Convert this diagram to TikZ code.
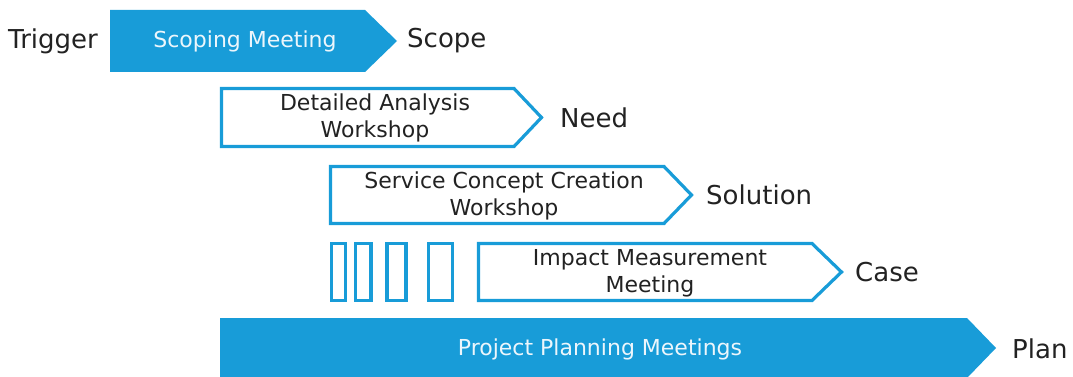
\documentclass[tikz,border=0pt]{standalone}
\usepackage{fontspec}
\setmainfont{DejaVu Sans}
\definecolor{pblue}{RGB}{24,156,216}
\definecolor{ptext}{RGB}{34,34,34}
\definecolor{wtext}{RGB}{236,246,252}
\tikzset{
  filledbox/.style={fill=pblue,draw=none},
  outlinebox/.style={draw=pblue,line width=3.2pt,fill=white,line join=miter},
  intext/.style={font=\fontsize{22}{27}\selectfont,align=center,text=ptext,inner sep=0pt},
  whitetext/.style={intext,text=wtext},
  label/.style={font=\fontsize{26}{30}\selectfont,text=ptext,anchor=west,inner sep=0pt}
}
\begin{document}
\begin{tikzpicture}[x=1pt,y=-1pt]
\useasboundingbox (0,0) rectangle (1073,377);
% Scoping meeting
\path[filledbox] (110,10) -- (365,10) -- (397,41) -- (365,72) -- (110,72) -- cycle;
\node[whitetext] (scoping) at (245,41) {Scoping Meeting};
\node[label] (trigger) at (8,41) {Trigger};
\node[label] (scope) at (407,41) {Scope};
% Detailed analysis
\path[outlinebox] (221.5,88.5) -- (514,88.5) -- (541.5,117.5) -- (514,146.5) -- (221.5,146.5) -- cycle;
\node[intext] (detailed) at (375,118) {Detailed Analysis\\Workshop};
\node[label] (need) at (560,118) {Need};
% Service concept creation
\path[outlinebox] (330.5,166.5) -- (664,166.5) -- (691.5,195) -- (664,223.5) -- (330.5,223.5) -- cycle;
\node[intext] (service) at (504,196) {Service Concept Creation\\Workshop};
\node[label] (solution) at (706,195) {Solution};
% small boxes
\path[outlinebox] (331.5,243.5) rectangle (345.5,300.5);
\path[outlinebox] (355.5,243.5) rectangle (371,300.5);
\path[outlinebox] (387,243.5) rectangle (406,300.5);
\path[outlinebox] (428.5,243.5) rectangle (452.5,300.5);
% Impact measurement
\path[outlinebox] (478.5,243.5) -- (812,243.5) -- (841.5,272) -- (812,300.5) -- (478.5,300.5) -- cycle;
\node[intext] (impact) at (650,273) {Impact Measurement\\Meeting};
\node[label] (case) at (855,272) {Case};
% Project planning
\path[filledbox] (220,318) -- (967,318) -- (996,348) -- (967,378) -- (220,378) -- cycle;
\node[whitetext] (planning) at (600,349) {Project Planning Meetings};
\node[label] (plan) at (1012,349) {Plan};
\end{tikzpicture}
\end{document}
